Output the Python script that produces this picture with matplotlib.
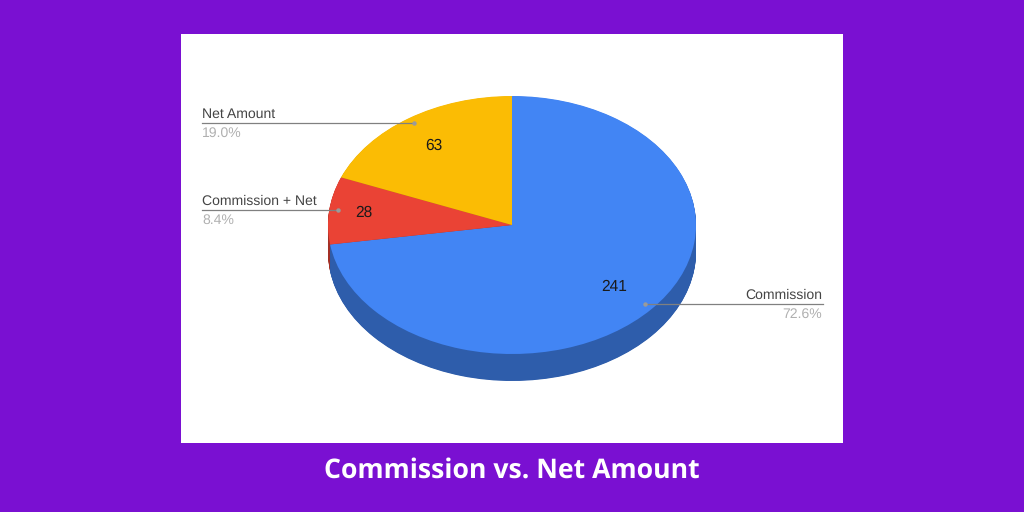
import numpy as np
import matplotlib
matplotlib.use('Agg')
import matplotlib.pyplot as plt
from matplotlib.patches import Rectangle

plt.rcParams['text.hinting'] = 'no_hinting'

# %% DATA
categories = ['Commission', 'Commission + Net', 'Net Amount']
values = [241, 28, 63]
percent_labels = ['72.6%', '8.4%', '19.0%']
title = 'Commission vs. Net Amount'

top_colors = ['#4285f4', '#ea4335', '#fbbc04']
side_colors = ['#2e5dab', '#a32f25', '#b08403']

# %% LAYOUT (all in reference pixels)
W, H = 1024, 512
cx, cy = 512, 225
rx, ry = 184, 129
depth = 27

def fx(x):
    return x / W

def fy(y):
    return 1 - y / H

fig = plt.figure(figsize=(W / 100, H / 100), dpi=100, facecolor='#7a10d2')

# white panel
fig.patches.append(Rectangle((fx(181), fy(443)), 662 / W, 409 / H, transform=fig.transFigure,
                             facecolor='white', edgecolor='none', zorder=0))

ax = fig.add_axes([0, 0, 1, 1], zorder=1)
ax.patch.set_alpha(0)

# side wall, stacked copies of the pie going upward
for d in np.arange(depth, 0, -0.5):
    ax.pie(values, colors=side_colors, startangle=90, counterclock=False,
           center=(0, -d / ry), radius=1, wedgeprops={'linewidth': 0})

# top face
ax.pie(values, colors=top_colors, startangle=90, counterclock=False,
       center=(0, 0), radius=1, wedgeprops={'linewidth': 0})

# pie forces equal aspect, squash it to the ellipse
ax.set_aspect('auto')
ax.set_xlim(-cx / rx, (W - cx) / rx)
ax.set_ylim((cy - H) / ry, cy / ry)
ax.axis('off')

label_font = ['Liberation Sans', 'DejaVu Sans']

# %% VALUE LABELS
value_pos = [(614, 287), (364, 213), (434, 146)]
for val, (x, y) in zip(values, value_pos):
    fig.text(fx(x), fy(y), str(val), ha='center', va='center', fontsize=11.2,
             color='#1a1a1a', family=label_font, zorder=5)

# %% LEADER LABELS
# (line start, line end, dot x, text x, text align, line y)
leaders = [(645, 823, 645, 822, 'right', 304),
           (202, 338, 338, 202, 'left', 210),
           (202, 414, 414, 202, 'left', 123)]

for cat, pct, (x0, x1, dot, tx, ha, ly) in zip(categories, percent_labels, leaders):
    fig.add_artist(plt.Line2D([fx(x0), fx(x1)], [fy(ly), fy(ly)], color='#808080', lw=0.9,
                              transform=fig.transFigure, zorder=4))
    fig.add_artist(plt.Line2D([fx(dot)], [fy(ly)], marker='o', ms=3.2, color='#9a9a9a',
                              mec='none', transform=fig.transFigure, zorder=4))
    fig.text(fx(tx), fy(ly - 9), cat, ha=ha, va='center', fontsize=10.1, color='#444444',
             family=label_font, zorder=5)
    fig.text(fx(tx), fy(ly + 10.5), pct, ha=ha, va='center', fontsize=10.1, color='#b0b0b0',
             family=label_font, zorder=5)

# %% TITLE
fig.text(fx(512), fy(471), title, ha='center', va='center', fontsize=19.2, fontweight='bold',
         color='white', family=['Open Sans', 'DejaVu Sans'], zorder=5)

fig.savefig('out.png', dpi=100, facecolor=fig.get_facecolor())
